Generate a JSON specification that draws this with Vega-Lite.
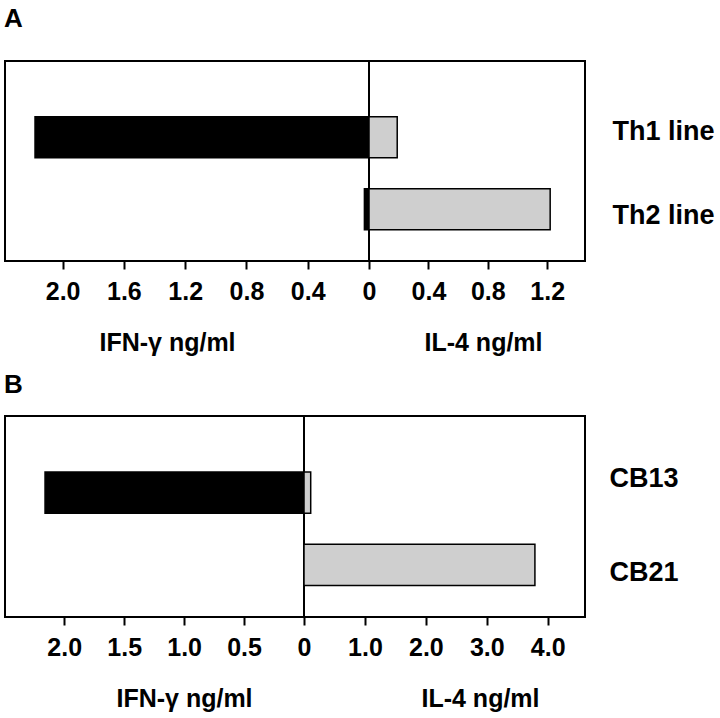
{
  "$schema": "https://vega.github.io/schema/vega-lite/v6.json",
  "padding": {"left": 4, "top": 6, "right": 0, "bottom": 0},
  "background": "white",
  "config": {
    "view": {"stroke": "black", "strokeWidth": 2},
    "font": "Liberation Sans",
    "axis": {"labelFont": "Liberation Sans", "labelFontWeight": "bold", "labelColor": "black", "titleFont": "Liberation Sans", "titleFontWeight": "bold", "titleColor": "black", "tickColor": "black", "domain": false, "grid": false, "labelFlush": false, "labelOverlap": false},
    "title": {"font": "Liberation Sans", "fontWeight": "bold", "color": "black", "anchor": "start", "fontSize": 26}
  },
  "datasets": {
    "cyto": [
      {"panel": "A", "line": "Th1 line", "cytokine": "IFN", "value": 2.18},
      {"panel": "A", "line": "Th2 line", "cytokine": "IFN", "value": 0.03},
      {"panel": "A", "line": "Th1 line", "cytokine": "IL4", "value": 0.19},
      {"panel": "A", "line": "Th2 line", "cytokine": "IL4", "value": 1.22},
      {"panel": "B", "line": "CB13", "cytokine": "IFN", "value": 2.16},
      {"panel": "B", "line": "CB21", "cytokine": "IFN", "value": 0},
      {"panel": "B", "line": "CB13", "cytokine": "IL4", "value": 0.11},
      {"panel": "B", "line": "CB21", "cytokine": "IL4", "value": 3.79}
    ]
  },
  "spacing": 16,
  "vconcat": [
    {
      "title": {"text": "A", "offset": 28},
      "bounds": "flush",
      "spacing": 0,
      "resolve": {"scale": {"x": "independent"}},
      "hconcat": [
        {
          "width": 364, "height": 200,
          "data": {"name": "cyto"},
          "transform": [{"filter": "datum.panel == 'A' && datum.cytokine == 'IFN'"}],
          "mark": {"type": "bar", "fill": "black", "stroke": "black", "strokeWidth": 1.5},
          "encoding": {
            "y": {"field": "line", "type": "nominal", "scale": {"domain": ["Th1 line", "Th2 line"], "paddingInner": 0.43, "paddingOuter": 0.604, "align": 0.64}, "axis": null},
            "x": {"field": "value", "type": "quantitative", "scale": {"domain": [0, 2.376], "reverse": true, "nice": false, "zero": true},
              "axis": {"values": [0.4, 0.8, 1.2, 1.6, 2.0], "format": ".1f", "title": "IFN-γ ng/ml", "titleX": 162, "titleY": 89, "titleBaseline": "alphabetic", "titleAlign": "center", "titleAnchor": null, "titleFontSize": 25, "labelFontSize": 25, "tickSize": 8, "tickWidth": 2, "labelPadding": 10}}
          }
        },
        {
          "width": 216, "height": 200,
          "data": {"name": "cyto"},
          "transform": [{"filter": "datum.panel == 'A' && datum.cytokine == 'IL4'"}],
          "mark": {"type": "bar", "fill": "#cfcfcf", "stroke": "black", "strokeWidth": 1.5},
          "encoding": {
            "y": {"field": "line", "type": "nominal", "scale": {"domain": ["Th1 line", "Th2 line"], "paddingInner": 0.43, "paddingOuter": 0.604, "align": 0.64},
              "axis": {"orient": "right", "title": null, "ticks": false, "labelFontSize": 27, "labelPadding": 27, "labelOffset": {"condition": {"test": "datum.value == 'Th1 line'", "value": -5}, "value": 7}}},
            "x": {"field": "value", "type": "quantitative", "scale": {"domain": [0, 1.4545], "nice": false, "zero": true},
              "axis": {"values": [0, 0.4, 0.8, 1.2], "labelExpr": "datum.value == 0 ? '0' : format(datum.value, '.1f')", "title": "IL-4  ng/ml", "titleX": 114, "titleY": 89, "titleBaseline": "alphabetic", "titleAlign": "center", "titleAnchor": null, "titleFontSize": 25, "labelFontSize": 25, "tickSize": 8, "tickWidth": 2, "labelPadding": 10}}
          }
        }
      ]
    },
    {
      "title": {"text": "B", "offset": 17},
      "bounds": "flush",
      "spacing": 0,
      "resolve": {"scale": {"x": "independent"}},
      "hconcat": [
        {
          "width": 299, "height": 201,
          "data": {"name": "cyto"},
          "transform": [{"filter": "datum.panel == 'B' && datum.cytokine == 'IFN'"}],
          "mark": {"type": "bar", "fill": "black", "stroke": "black", "strokeWidth": 1.5},
          "encoding": {
            "y": {"field": "line", "type": "nominal", "scale": {"domain": ["CB13", "CB21"], "paddingInner": 0.43, "paddingOuter": 0.604, "align": 0.64}, "axis": null},
            "x": {"field": "value", "type": "quantitative", "scale": {"domain": [0, 2.494], "reverse": true, "nice": false, "zero": true},
              "axis": {"values": [0.5, 1.0, 1.5, 2.0], "format": ".1f", "title": "IFN-γ ng/ml", "titleX": 179, "titleY": 89, "titleBaseline": "alphabetic", "titleAlign": "center", "titleAnchor": null, "titleFontSize": 25, "labelFontSize": 25, "tickSize": 8, "tickWidth": 2, "labelPadding": 10}}
          }
        },
        {
          "width": 281, "height": 201,
          "data": {"name": "cyto"},
          "transform": [{"filter": "datum.panel == 'B' && datum.cytokine == 'IL4'"}],
          "mark": {"type": "bar", "fill": "#cfcfcf", "stroke": "black", "strokeWidth": 1.5},
          "encoding": {
            "y": {"field": "line", "type": "nominal", "scale": {"domain": ["CB13", "CB21"], "paddingInner": 0.43, "paddingOuter": 0.604, "align": 0.64},
              "axis": {"orient": "right", "title": null, "ticks": false, "labelFontSize": 27, "labelPadding": 24, "labelOffset": {"condition": {"test": "datum.value == 'CB13'", "value": -14}, "value": 8}}},
            "x": {"field": "value", "type": "quantitative", "scale": {"domain": [0, 4.612], "nice": false, "zero": true},
              "axis": {"values": [0, 1, 2, 3, 4], "labelExpr": "datum.value == 0 ? '0' : format(datum.value, '.1f')", "title": "IL-4  ng/ml", "titleX": 176, "titleY": 89, "titleBaseline": "alphabetic", "titleAlign": "center", "titleAnchor": null, "titleFontSize": 25, "labelFontSize": 25, "tickSize": 8, "tickWidth": 2, "labelPadding": 10}}
          }
        }
      ]
    }
  ]
}
